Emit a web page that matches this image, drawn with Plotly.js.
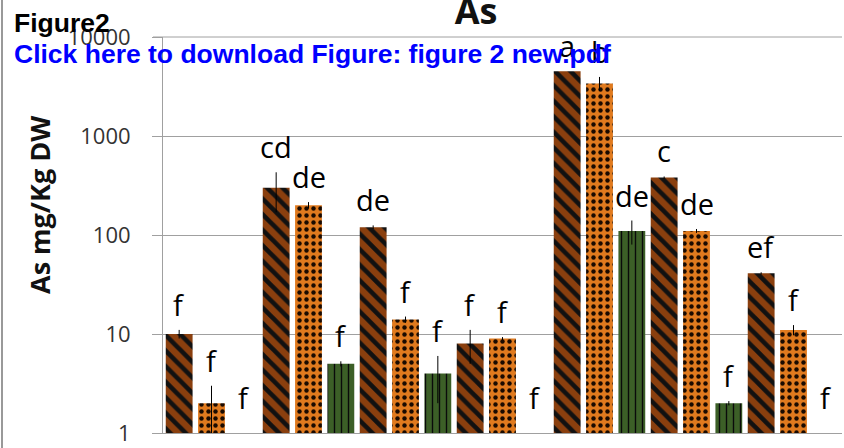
<!DOCTYPE html>
<html>
<head>
<meta charset="utf-8">
<script src="https://cdn.plot.ly/plotly-3.0.1.min.js"></script>
<style>html,body{margin:0;padding:0;background:#fff;}#chart{width:844px;height:448px;}</style>
</head>
<body>
<div id="chart"></div>
<script>
// ---- data ----
const groups = ['G1','G2','G3','G4','G5','G6','G7'];
const seriesNames = ['S1','S2','S3'];
const valuesS1 = [10, 300, 120, 8, 4500, 380, 41];
const errS1    = [1, 130, 5, 3, 0, 10, 1];
const lettersS1 = ['f','cd','de','f','a','c','ef'];
const valuesS2 = [2, 200, 14, 9, 3400, 110, 11];
const errS2    = [1, 15, 1, 0.3, 550, 5, 1.3];
const lettersS2 = ['f','de','f','f','b','de','f'];
const valuesS3 = [null, 5, 4, null, 110, 2, null];
const errS3    = [0, 0.3, 2, 0, 30, 0.1, 0];
const lettersS3 = ['f','f','f','f','de','f','f'];
const yTickVals = [1, 10, 100, 1000, 10000];
const yTickText = ['1','10','100','1000','10000'];
const chartTitle = 'As';
const yTitle = 'As mg/Kg DW';
const headerText = 'Figure2';
const linkText = 'Click here to download Figure: figure 2 new.pdf';

// ---- layout geometry ----
const W = 844, H = 448;
const M = {l:163, r:2, t:37, b:15};
const PW = W - M.l - M.r, PH = H - M.t - M.b;
const px = x => (x - M.l) / PW;
const py = y => (H - M.b - y) / PH;

const styles = [
  {bg:'#8a3f0e', fg:'#111111', shape:'\\', size:11, solidity:0.42},
  {bg:'#e07a1e', fg:'#1a0a00', shape:'.', size:7, solidity:0.32},
  {bg:'#3c5f27', fg:'#0a0a0a', shape:'|', size:7, solidity:0.2}
];
const vals = [valuesS1, valuesS2, valuesS3];
const errs = [errS1, errS2, errS3];
const letters = [lettersS1, lettersS2, lettersS3];

const traces = [];
const annotations = [];
vals.forEach((v, k) => {
  const xs = groups.map((g, i) => i * 3 + k);
  traces.push({
    type: 'bar', name: seriesNames[k], x: xs, y: v, width: 0.83,
    marker: {color: styles[k].bg, line: {width: 0},
      pattern: {shape: styles[k].shape, bgcolor: styles[k].bg, fgcolor: styles[k].fg,
        size: styles[k].size, solidity: styles[k].solidity, fillmode: 'replace'}},
    error_y: {type: 'data', array: errs[k], visible: true, color: '#000', thickness: 1, width: 0},
    hoverinfo: 'x+y'
  });
  xs.forEach((x, i) => {
    const top = v[i] == null ? 1 : v[i] + errs[k][i];
    annotations.push({
      x: x, y: Math.log10(top), xref: 'x', yref: 'y', text: letters[k][i],
      showarrow: false, xanchor: 'center', yanchor: 'bottom', yshift: v[i] == null ? 14 : 4,
      font: {family: 'Open Sans', size: 29, color: '#000'}
    });
  });
});

annotations.push({
  xref: 'paper', yref: 'paper', x: px(40), y: py(205), text: yTitle, textangle: -90,
  showarrow: false, xanchor: 'center', yanchor: 'middle',
  font: {family: 'Open Sans', size: 27, color: '#111', weight: 'bold'}
});
annotations.push({
  xref: 'paper', yref: 'paper', x: px(12), y: py(23), text: '<b>' + headerText + '</b>',
  showarrow: false, xanchor: 'left', yanchor: 'middle',
  font: {family: 'Liberation Sans', size: 26.5, color: '#000'}
});
annotations.push({
  xref: 'paper', yref: 'paper', x: px(12), y: py(54), text: '<b>' + linkText + '</b>',
  showarrow: false, xanchor: 'left', yanchor: 'middle',
  font: {family: 'Liberation Sans', size: 26.5, color: '#0000ff'}
});

const layout = {
  width: W, height: H, margin: M, showlegend: false, barmode: 'overlay',
  paper_bgcolor: '#fff', plot_bgcolor: '#fff',
  title: {text: '<b>' + chartTitle + '</b>', x: 476 / W, xanchor: 'center', y: 1 - 11 / H, yanchor: 'middle',
    xref: 'container', yref: 'container', font: {family: 'Open Sans', size: 36, color: '#111'}},
  xaxis: {range: [-0.5, 20.5], showticklabels: false, ticks: '', showgrid: false, zeroline: false,
    showline: true, linecolor: '#a0a0a0', linewidth: 1, fixedrange: true},
  yaxis: {type: 'log', range: [0, 4], tickvals: yTickVals, ticktext: yTickText,
    ticks: 'outside', ticklen: 10, tickcolor: '#a0a0a0', showgrid: true, gridcolor: '#a0a0a0', gridwidth: 1,
    showline: true, linecolor: '#a0a0a0', linewidth: 1, zeroline: false,
    tickfont: {family: 'Open Sans', size: 22, color: '#333'}, ticklabelstandoff: 17},
  shapes: [
    {type: 'line', xref: 'paper', yref: 'paper', x0: px(2), x1: px(2), y0: py(H), y1: py(0),
      line: {color: '#999', width: 2}},
    {type: 'line', xref: 'paper', yref: 'paper', x0: px(153), x1: 1, y0: 1, y1: 1,
      line: {color: '#a0a0a0', width: 1}}
  ],
  annotations: annotations
};

Plotly.newPlot('chart', traces, layout, {staticPlot: true, displayModeBar: false});
</script>
</body>
</html>
